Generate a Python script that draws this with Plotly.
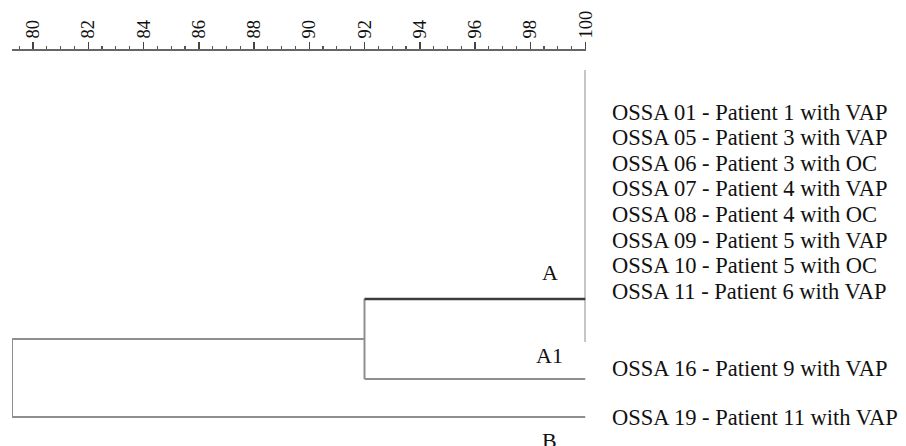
import plotly.graph_objects as go

# ---- data ----
leaf_labels = [
    "OSSA 01 - Patient 1 with VAP",
    "OSSA 05 - Patient 3 with VAP",
    "OSSA 06 - Patient 3 with OC",
    "OSSA 07 - Patient 4 with VAP",
    "OSSA 08 - Patient 4 with OC",
    "OSSA 09 - Patient 5 with VAP",
    "OSSA 10 - Patient 5 with OC",
    "OSSA 11 - Patient 6 with VAP",
    "OSSA 16 - Patient 9 with VAP",
    "OSSA 19 - Patient 11 with VAP",
]
leaf_rows = [0, 1, 2, 3, 4, 5, 6, 7, 10.0, 11.92]

# similarity levels (%) of the nodes
sim_A = 100.0        # cluster A (identical isolates)
sim_A_A1 = 92.0      # A joins A1
sim_root = 79.24     # (A, A1) joins B
sim_leaf = 100.0

# row positions of the branches
A_span = [-1.64, 8.98]   # vertical extent of cluster A bar
A_row = 7.30
A1_row = 10.43
B_row = 11.91

cluster_names = ["A", "A1", "B"]
cluster_rows = [6.25, 9.53, 12.85]
cluster_x = [98.7, 98.7, 98.7]

tick_vals = list(range(80, 101, 2))
tick_text = [str(v) for v in tick_vals]
minor_vals = [v / 2 for v in range(159, 201)]

# ---- figure ----
GRAY = "#8e8e8e"
DARK = "#3c3c3c"
FONT = "Liberation Serif, Times New Roman, serif"
fig = go.Figure()

mid_AA1 = (A_row + A1_row) / 2

segments = [
    ([sim_A, sim_A], A_span, GRAY, 2),
    ([sim_A_A1, sim_leaf], [A1_row, A1_row], GRAY, 2),
    ([sim_A_A1, sim_A_A1], [A_row, A1_row], GRAY, 2),
    ([sim_root, sim_A_A1], [mid_AA1, mid_AA1], GRAY, 2),
    ([sim_root, sim_root], [mid_AA1, B_row], GRAY, 2),
    ([sim_root, sim_leaf], [B_row, B_row], GRAY, 2),
    ([sim_A_A1, sim_A], [A_row, A_row], DARK, 2.5),
]
for xs, ys, col, w in segments:
    fig.add_trace(go.Scatter(x=xs, y=ys, mode="lines",
                             line=dict(color=col, width=w),
                             hoverinfo="skip", showlegend=False,
                             cliponaxis=False))

annotations = []
for lab, r in zip(leaf_labels, leaf_rows):
    annotations.append(dict(x=sim_leaf, y=r, xref="x", yref="y", text=lab,
                            showarrow=False, xanchor="left", yanchor="middle",
                            xshift=24,
                            font=dict(family=FONT, size=22.5, color="#111")))
for lab, r, xv in zip(cluster_names, cluster_rows, cluster_x):
    annotations.append(dict(x=xv, y=r, xref="x", yref="y", text=lab,
                            showarrow=False, xanchor="center", yanchor="middle",
                            font=dict(family=FONT, size=22, color="#111")))

W, H = 906, 446
top = 51
row_px = 25.6
row0_px = 112.0
y_top = -(row0_px - top) / row_px
y_bot = (H - row0_px) / row_px

fig.update_layout(
    template="none",
    width=W, height=H,
    margin=dict(l=0, r=0, t=top, b=0, pad=0),
    paper_bgcolor="white", plot_bgcolor="white",
    annotations=annotations,
    xaxis=dict(
        side="top",
        automargin=False,
        domain=[12 / W, 585.5 / W],
        range=[sim_root, 100],
        tickmode="array", tickvals=tick_vals, ticktext=tick_text,
        tickangle=-90,
        tickfont=dict(family=FONT, size=18.5, color="#111"),
        ticklabelstandoff=0,
        ticks="outside", ticklen=7, tickwidth=1.5, tickcolor="#444",
        minor=dict(tickmode="array", tickvals=minor_vals, ticks="outside",
                   ticklen=3.5, tickwidth=1.2, tickcolor="#555", showgrid=False),
        showline=True, linecolor="#666", linewidth=1.8,
        showgrid=False, zeroline=False,
    ),
    yaxis=dict(range=[y_bot, y_top], visible=False, automargin=False,
               showgrid=False, zeroline=False),
)

fig.write_html(
    "out.html",
    config={"displayModeBar": False, "staticPlot": True},
    post_script="document.body.style.margin='0';document.body.style.padding='0';",
)
